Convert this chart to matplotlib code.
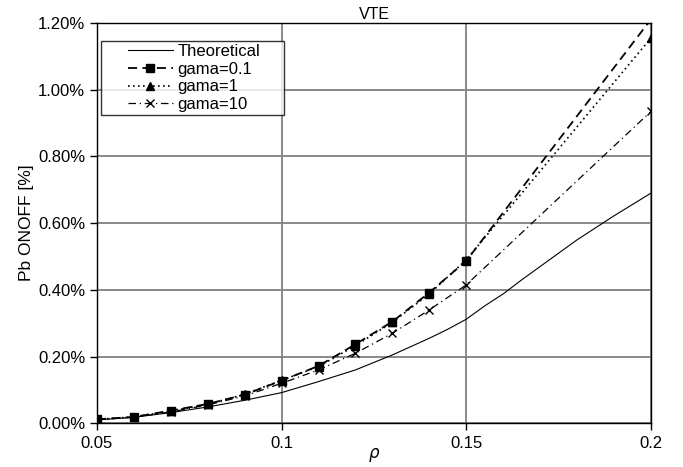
import matplotlib
matplotlib.use("Agg")
import matplotlib.pyplot as plt
from matplotlib.ticker import FuncFormatter
from matplotlib.legend_handler import HandlerLine2D

plt.rcParams['font.family'] = ['Liberation Sans', 'DejaVu Sans']

# Data (values in percent)
rho_theory = [0.05, 0.06, 0.07, 0.08, 0.09, 0.10, 0.11, 0.12, 0.13, 0.14, 0.145,
              0.15, 0.155, 0.16, 0.165, 0.17, 0.175, 0.18, 0.185, 0.19, 0.195, 0.20]
theoretical = [0.010, 0.018, 0.032, 0.049, 0.069, 0.092, 0.125, 0.160, 0.205, 0.255, 0.282,
               0.312, 0.352, 0.388, 0.430, 0.470, 0.510, 0.550, 0.586, 0.622, 0.656, 0.690]

rho_sim = [0.05, 0.06, 0.07, 0.08, 0.09, 0.10, 0.11, 0.12, 0.13, 0.14, 0.15, 0.20]
gama_01 = [0.012, 0.019, 0.038, 0.058, 0.086, 0.128, 0.172, 0.237, 0.305, 0.392, 0.487, 1.211]
gama_1 = [0.012, 0.019, 0.037, 0.057, 0.087, 0.129, 0.170, 0.233, 0.303, 0.388, 0.490, 1.155]
gama_10 = [0.011, 0.018, 0.034, 0.055, 0.082, 0.120, 0.160, 0.210, 0.270, 0.340, 0.415, 0.935]

xticks = [0.05, 0.1, 0.15, 0.2]
xtick_labels = ["0.05", "0.1", "0.15", "0.2"]
yticks = [0.0, 0.2, 0.4, 0.6, 0.8, 1.0, 1.2]


class OffsetHandler(HandlerLine2D):
    """Leaves blank space in front of the legend line, as Excel does."""
    def create_artists(self, legend, orig_handle, xdescent, ydescent, width, height,
                       fontsize, trans):
        off = width * 0.345
        return super().create_artists(legend, orig_handle, xdescent - off, ydescent,
                                      width - off, height, fontsize, trans)


fig = plt.figure(figsize=(6.83, 4.67), dpi=100)
ax = fig.add_axes([0.142, 0.0936, 0.811, 0.857])

ax.plot(rho_theory, theoretical, color='black', lw=0.8, ls='-', label='Theoretical')
ax.plot(rho_sim, gama_01, color='black', lw=1.3, ls=(0, (5, 3)), marker='s', ms=5.5,
        label='gama=0.1')
ax.plot(rho_sim, gama_1, color='black', lw=1.2, ls=(0, (1, 2)), marker='^', ms=5.5,
        label='gama=1')
ax.plot(rho_sim, gama_10, color='black', lw=0.9, ls=(0, (6, 3, 1, 3)), marker='x', ms=6,
        mew=1.0, label='gama=10')

ax.set_xlim(0.05, 0.2)
ax.set_ylim(0.0, 1.2)
ax.set_xticks(xticks)
ax.set_xticklabels(xtick_labels)
ax.set_yticks(yticks)
ax.yaxis.set_major_formatter(FuncFormatter(lambda v, p: f"{v:.2f}%"))

ax.grid(True, color='#808080', lw=1.3)
ax.set_axisbelow(True)
for s in ax.spines.values():
    s.set_color('black')
    s.set_linewidth(1.0)
ax.tick_params(axis='both', direction='out', length=5, width=1, color='black',
               labelsize=12)
ax.tick_params(axis='x', pad=4)

ax.set_title('VTE', fontsize=11.5, pad=3)
ax.set_xlabel(r'$\rho$', fontsize=12)
ax.xaxis.label.set_va('center')
ax.xaxis.set_label_coords(0.5, -0.08)
ax.set_ylabel('Pb ONOFF [%]', fontsize=12.5, labelpad=3)

leg_h = 0.19
leg = ax.legend(loc='upper left', bbox_to_anchor=(0.007, 0.956 - leg_h, 0.330, leg_h),
                mode='expand', frameon=True,
                fancybox=False, edgecolor='black', fontsize=12, handlelength=4.1,
                borderpad=0.2, labelspacing=0.16, handletextpad=0.3,
                borderaxespad=0.0,
                handler_map={plt.Line2D: OffsetHandler()})
leg.get_frame().set_linewidth(1.0)

fig.savefig('out.png', dpi=100)
